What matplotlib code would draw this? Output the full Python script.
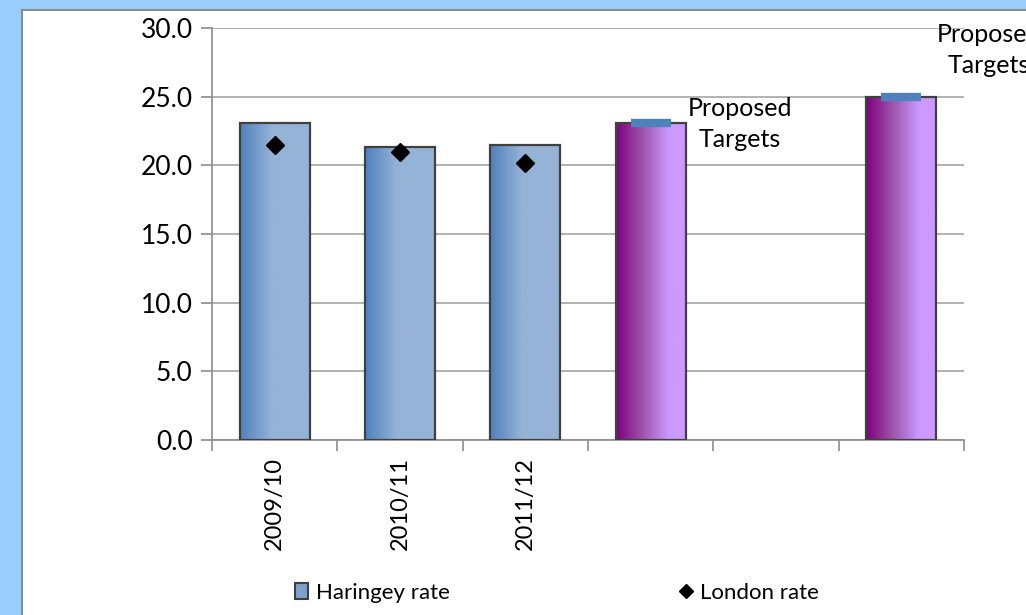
import numpy as np
import matplotlib
matplotlib.use("Agg")
import matplotlib.pyplot as plt
from matplotlib.patches import Rectangle, Patch
from matplotlib.lines import Line2D
from matplotlib.colors import LinearSegmentedColormap

plt.rcParams['font.family'] = ['Lato', 'DejaVu Sans']

# data
categories = ['2009/10', '2010/11', '2011/12', '', '', '']
haringey = [23.1, 21.3, 21.5, 23.1, np.nan, 25.0]
london = [21.5, 21.0, 20.2, np.nan, np.nan, np.nan]
targets = [np.nan, np.nan, np.nan, 23.1, np.nan, 25.0]
is_target = [False, False, False, True, False, True]

fig = plt.figure(figsize=(10.26, 6.15), dpi=100)
fig.patch.set_facecolor('#99CCFF')
# white chart panel
fig.patches.append(Rectangle((22 / 1026, -0.01), 1.0, 1 - 10 / 615 + 0.01,
                             transform=fig.transFigure, facecolor='white',
                             edgecolor='#8C8C8C', lw=1.5, zorder=-5))

ax = fig.add_axes([212 / 1026, 1 - 440 / 615, (964 - 212) / 1026, (440 - 28) / 615])
ax.set_facecolor('none')

x = np.arange(len(categories))
bars = ax.bar(x, haringey, width=0.56, facecolor='none', edgecolor='#404040',
              lw=1.6, zorder=3)

blue_cmap = LinearSegmentedColormap.from_list('b', [(0, '#4F81BD'), (0.45, '#95B3D7'), (1, '#95B3D7')])
purple_cmap = LinearSegmentedColormap.from_list('p', [(0, '#7F007F'), (0.35, '#9A4FA8'), (0.75, '#CC99FF'), (1, '#CC99FF')])
grad = np.linspace(0, 1, 256).reshape(1, -1)
for b, tgt in zip(bars, is_target):
    h = b.get_height()
    if np.isnan(h):
        continue
    x0 = b.get_x()
    w = b.get_width()
    im = ax.imshow(grad, cmap=purple_cmap if tgt else blue_cmap, aspect='auto',
                   extent=[x0, x0 + w, 0, h], zorder=2, interpolation='bilinear')
    im.set_clip_path(b)

ax.plot(x, london, linestyle='none', marker='D', ms=9, color='black', zorder=5)
ax.plot(x, targets, linestyle='none', marker='_', ms=29, mew=6, color='#4F81BD', zorder=6)

ax.text(3.71, 23.0, 'Proposed\nTargets', ha='center', va='center', fontsize=18,
        linespacing=1.45, zorder=7)
ax.text(5.70, 28.4, 'Proposed\nTargets', ha='center', va='center', fontsize=18,
        linespacing=1.45, clip_on=False, zorder=7)

ax.set_xlim(-0.5, len(categories) - 0.5)
ax.set_ylim(0, 30)
ax.set_yticks(np.arange(0, 30.1, 5))
ax.set_yticklabels([f'{v:.1f}' for v in np.arange(0, 30.1, 5)], fontsize=19)
ax.yaxis.grid(True, color='#A6A6A6', lw=1.2, zorder=0)
ax.set_axisbelow(True)

ax.set_xticks(x)
ax.set_xticklabels(categories, rotation=90, fontsize=17)
ax.set_xticks(np.arange(-0.5, len(categories), 1), minor=True)
ax.tick_params(axis='x', which='major', length=0, pad=12)
ax.tick_params(axis='x', which='minor', length=8, color='#8C8C8C', width=1.2)
ax.tick_params(axis='y', length=8, color='#8C8C8C', width=1.2, pad=6)

for s in ['top', 'right']:
    ax.spines[s].set_visible(False)
for s in ['left', 'bottom']:
    ax.spines[s].set_color('#8C8C8C')
    ax.spines[s].set_linewidth(1.2)

handles = [Patch(facecolor='#7EA0CB', edgecolor='#404040', lw=1.5),
           Line2D([], [], linestyle='none', marker='D', ms=7, color='black')]
fig.legend(handles, ['Haringey rate', 'London rate'], ncol=2, frameon=False,
           loc='center', bbox_to_anchor=(557 / 1026, 1 - 593 / 615), fontsize=16,
           columnspacing=10.3, handlelength=0.6, handletextpad=0.35)

fig.savefig('out.png', dpi=100)
